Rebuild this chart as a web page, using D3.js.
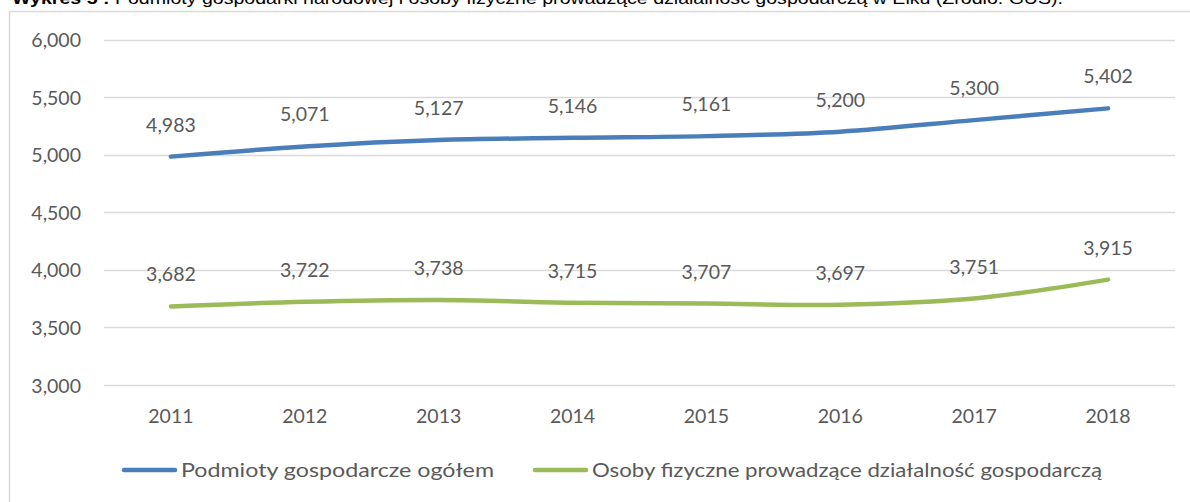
<!DOCTYPE html>
<html><head><meta charset="utf-8">
<script src="https://cdn.jsdelivr.net/npm/d3@7"></script>
<style>
html,body{margin:0;padding:0;background:#fff;overflow:hidden;}
svg{display:block;}
</style></head>
<body>
<svg id="c" width="1190" height="502"></svg>
<script>
const years = ["2011","2012","2013","2014","2015","2016","2017","2018"];
const podmioty = [4983, 5071, 5127, 5146, 5161, 5200, 5300, 5402];
const osoby = [3682, 3722, 3738, 3715, 3707, 3697, 3751, 3915];
const yTicks = [3000, 3500, 4000, 4500, 5000, 5500, 6000];
const seriesNames = ["Podmioty gospodarcze ogółem", "Osoby fizyczne prowadzące działalność gospodarczą"];
const titleBold = "Wykres 5 : ";
const titleRest = "Podmioty gospodarki narodowej i osoby fizyczne prowadzące działalność gospodarczą w Ełku (Źródło: GUS).";

const svg = d3.select("#c");
const font = "Lato, 'Open Sans', sans-serif";
const txt = "#595959";
const grid = "#d9d9d9";

// title (cut off at top, as in the reference)
const t = svg.append("text").attr("x", 12).attr("y", 4)
  .attr("font-family", "'Liberation Sans', Arial, sans-serif").attr("font-size", 16).attr("fill", "#000")
  .attr("textLength", 1051).attr("lengthAdjust", "spacingAndGlyphs");
t.append("tspan").attr("font-weight", "bold").text(titleBold);
t.append("tspan").text(titleRest);

// frame
svg.append("path").attr("d", "M9.5,600 V11.5 H1300").attr("fill", "none").attr("stroke", grid).attr("stroke-width", 1.5);

const x = d3.scaleBand().domain(years).range([104, 1175]);
const y = d3.scaleLinear().domain([3000, 6000]).range([385, 39.5]);

// gridlines
svg.append("g").selectAll("line").data(yTicks).join("line")
  .attr("x1", 104).attr("x2", 1175)
  .attr("y1", d => Math.round(y(d)) + 0.5).attr("y2", d => Math.round(y(d)) + 0.5)
  .attr("stroke", grid).attr("stroke-width", 1.3);

// y axis labels
const yAxis = d3.axisLeft(y).tickValues(yTicks).tickFormat(d3.format(",")).tickSize(0).tickPadding(0);
const gy = svg.append("g").attr("transform", "translate(81,0)").call(yAxis);
gy.select(".domain").remove();
gy.selectAll("text").attr("font-family", font).attr("font-size", 19.5).attr("fill", txt).attr("dy", "0.36em");

// x axis labels
const xAxis = d3.axisBottom(x).tickSize(0).tickPadding(0);
const gx = svg.append("g").attr("transform", "translate(0,409)").call(xAxis);
gx.select(".domain").remove();
gx.selectAll("text").attr("font-family", font).attr("font-size", 19.5).attr("fill", txt).attr("dy", "0.71em");

const cx = d => x(d) + x.bandwidth() / 2;
const line = d3.line().x((d, i) => cx(years[i])).y(d => y(d)).curve(d3.curveCatmullRom.alpha(0));

const series = [
  {vals: podmioty, color: "#4a7ebb", name: seriesNames[0]},
  {vals: osoby, color: "#9bbb59", name: seriesNames[1]}
];

series.forEach(s => {
  svg.append("path").datum(s.vals).attr("d", line)
    .attr("fill", "none").attr("stroke", s.color).attr("stroke-width", 4.5)
    .attr("stroke-linecap", "round").attr("stroke-linejoin", "round");
  svg.append("g").selectAll("text").data(s.vals).join("text")
    .attr("x", (d, i) => cx(years[i]))
    .attr("y", d => y(d) - 25)
    .attr("text-anchor", "middle")
    .attr("font-family", font).attr("font-size", 19.5).attr("fill", txt)
    .text(d => d3.format(",")(d));
});

// legend
const legendPos = [{lx: 122, tx: 181, w: 313}, {lx: 533, tx: 592, w: 510}];
series.forEach((s, i) => {
  const p = legendPos[i];
  svg.append("line").attr("x1", p.lx + 2).attr("x2", p.lx + 53).attr("y1", 470).attr("y2", 470)
    .attr("stroke", s.color).attr("stroke-width", 4.5).attr("stroke-linecap", "round");
  svg.append("text").attr("x", p.tx).attr("y", 477).attr("font-family", font).attr("font-size", 20)
    .attr("textLength", p.w).attr("lengthAdjust", "spacingAndGlyphs")
    .attr("fill", txt).text(s.name);
});
</script>
</body></html>
